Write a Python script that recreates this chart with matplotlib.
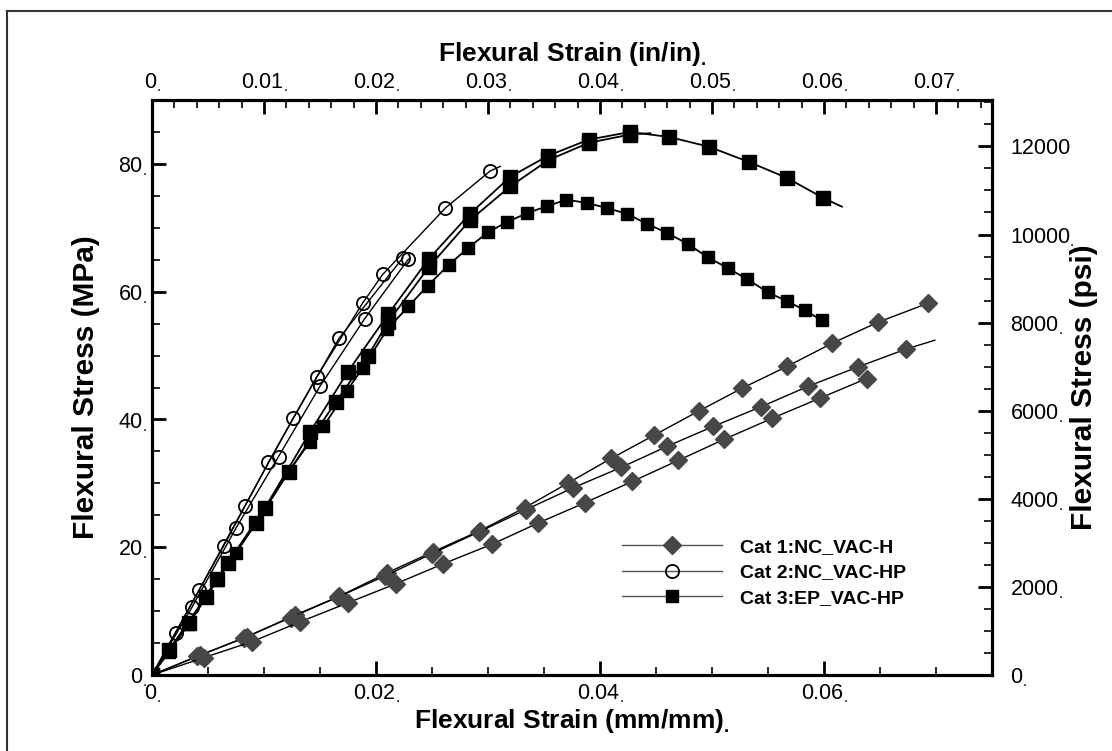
import matplotlib
matplotlib.use("Agg")
import matplotlib.pyplot as plt
from matplotlib.lines import Line2D
from matplotlib.ticker import MultipleLocator, FixedLocator, FixedFormatter

plt.rcParams['font.family'] = ['Liberation Sans', 'DejaVu Sans']
plt.rcParams['mathtext.fontset'] = 'custom'
plt.rcParams['mathtext.rm'] = 'Liberation Sans'
plt.rcParams['mathtext.bf'] = 'Liberation Sans:bold'

# ---------------- data (strain mm/mm, stress MPa) ----------------
cat1_a_x = [0, 0.0043, 0.0085, 0.0128, 0.0167, 0.0210, 0.0251, 0.0293, 0.0333, 0.0371, 0.0410, 0.0448, 0.0488, 0.0527, 0.0567, 0.0607, 0.0648, 0.0693]
cat1_a_y = [0, 3.1, 6.0, 9.4, 12.3, 16.0, 19.3, 22.6, 26.2, 30.0, 33.9, 37.5, 41.3, 44.9, 48.3, 51.9, 55.2, 58.2]
cat1_b_x = [0, 0.0040, 0.0082, 0.0124, 0.0166, 0.0208, 0.0250, 0.0292, 0.0334, 0.0376, 0.0419, 0.0460, 0.0501, 0.0544, 0.0586, 0.0630, 0.0673, 0.0699]
cat1_b_y = [0, 2.9, 5.8, 9.0, 12.2, 15.5, 19.0, 22.4, 25.9, 29.3, 32.5, 35.8, 38.9, 42.0, 45.2, 48.2, 51.0, 52.4]
cat1_c_x = [0, 0.0046, 0.0089, 0.0132, 0.0175, 0.0218, 0.0260, 0.0304, 0.0345, 0.0387, 0.0429, 0.0470, 0.0511, 0.0554, 0.0596, 0.0638]
cat1_c_y = [0, 2.7, 5.2, 8.3, 11.3, 14.3, 17.4, 20.5, 23.8, 27.0, 30.3, 33.6, 36.9, 40.2, 43.3, 46.4]

cat2_a_x = [0, 0.0021, 0.0064, 0.0104, 0.0147, 0.0188, 0.0206, 0.0262, 0.0302, 0.0311]
cat2_a_y = [0, 6.6, 20.2, 33.3, 46.6, 58.2, 62.7, 73.1, 78.9, 79.6]
cat2_b_x = [0, 0.0042, 0.0083, 0.0126, 0.0167, 0.0224]
cat2_b_y = [0, 13.3, 26.5, 40.2, 52.7, 65.3]
cat2_c_x = [0, 0.0036, 0.0075, 0.0113, 0.0150, 0.0190, 0.0229]
cat2_c_y = [0, 10.7, 23.0, 34.2, 45.2, 55.8, 65.1]

cat3_a_x = [0, 0.0015, 0.0048, 0.0068, 0.0101, 0.0141, 0.0175, 0.0211, 0.0247, 0.0284, 0.0320, 0.0354, 0.0390, 0.0427, 0.0462, 0.0497, 0.0533, 0.0567, 0.0599, 0.0616]
cat3_a_y = [0, 3.9, 12.2, 17.6, 26.2, 38.0, 47.5, 56.5, 65.1, 72.2, 78.0, 81.3, 83.8, 85.0, 84.2, 82.7, 80.3, 77.8, 74.7, 73.3]
cat3_b_x = [0, 0.0033, 0.0058, 0.0093, 0.0122, 0.0164, 0.0193, 0.0211, 0.0247, 0.0284, 0.0320, 0.0354, 0.0390, 0.0427, 0.0445]
cat3_b_y = [0, 8.2, 15.1, 23.8, 31.8, 42.7, 50.0, 55.3, 63.8, 71.2, 76.5, 80.6, 83.3, 84.6, 84.8]
cat3_c_x = [0, 0.0015, 0.0033, 0.0058, 0.0075, 0.0093, 0.0122, 0.0141, 0.0153, 0.0174, 0.0188, 0.0210, 0.0229, 0.0246, 0.0265, 0.0282, 0.0300, 0.0317, 0.0335, 0.0353, 0.0370, 0.0388, 0.0406, 0.0424, 0.0442, 0.0460, 0.0479, 0.0496, 0.0514, 0.0531, 0.0550, 0.0567, 0.0583, 0.0598]
cat3_c_y = [0, 3.6, 8.0, 14.8, 19.1, 23.8, 31.8, 36.5, 38.9, 44.5, 48.0, 54.1, 57.7, 60.9, 64.2, 66.8, 69.3, 70.9, 72.3, 73.4, 74.4, 73.9, 73.1, 72.2, 70.6, 69.2, 67.4, 65.4, 63.7, 62.0, 59.9, 58.5, 57.1, 55.5]

legend_labels = ["Cat 1:NC_VAC-H", "Cat 2:NC_VAC-HP", "Cat 3:EP_VAC-HP"]

x_bottom_ticks = [0, 0.02, 0.04, 0.06]
x_bottom_labels = ["0", "0.02", "0.04", "0.06"]
x_top_ticks = [0, 0.01, 0.02, 0.03, 0.04, 0.05, 0.06, 0.07]
x_top_labels = ["0", "0.01", "0.02", "0.03", "0.04", "0.05", "0.06", "0.07"]
y_left_ticks = [0, 20, 40, 60, 80]
y_left_labels = ["0", "20", "40", "60", "80"]
y_right_ticks = [0, 2000, 4000, 6000, 8000, 10000, 12000]
y_right_labels = ["0", "2000", "4000", "6000", "8000", "10000", "12000"]
MPA_TO_PSI = 145.038

# ---------------- figure ----------------
W, H = 1112, 751
fig = plt.figure(figsize=(W / 100, H / 100), dpi=100)
L, R, B, T = 152, 992, 675, 100
ax = fig.add_axes([L / W, (H - B) / H, (R - L) / W, (B - T) / H])

def dot(s):
    return s + r"$_{\mathregular{.}}$"

lw = 1.0
c1 = '#474747'
def m_except(n, first=True, last=True):
    idx = list(range(n))
    if first:
        idx = idx[1:]
    if not last:
        idx = idx[:-1]
    return idx

# Cat 1
for xs, ys, last in [(cat1_a_x, cat1_a_y, True), (cat1_b_x, cat1_b_y, False), (cat1_c_x, cat1_c_y, True)]:
    ax.plot(xs, ys, color='black', lw=lw, marker='D', ms=9, mfc=c1, mec=c1,
            markevery=m_except(len(xs), True, last), zorder=3)
# Cat 2
for xs, ys, last in [(cat2_a_x, cat2_a_y, False), (cat2_b_x, cat2_b_y, True), (cat2_c_x, cat2_c_y, True)]:
    ax.plot(xs, ys, color='black', lw=lw, marker='o', ms=9.5, mfc='none', mec='black', mew=1.3,
            markevery=m_except(len(xs), False, last), zorder=3)
# Cat 3
for xs, ys, last, ms in [(cat3_a_x, cat3_a_y, False, 9.5), (cat3_b_x, cat3_b_y, False, 9.5), (cat3_c_x, cat3_c_y, True, 8.5)]:
    ax.plot(xs, ys, color='black', lw=1.3, marker='s', ms=ms, mfc='black', mec='black',
            markevery=m_except(len(xs), False, last), zorder=3)

ax.set_xlim(0, 0.075)
ax.set_ylim(0, 90)

tick_fs = 15.5
ax.xaxis.set_major_locator(FixedLocator(x_bottom_ticks))
ax.xaxis.set_major_formatter(FixedFormatter([dot(s) for s in x_bottom_labels]))
ax.xaxis.set_minor_locator(MultipleLocator(0.005))
ax.yaxis.set_major_locator(FixedLocator(y_left_ticks))
ax.yaxis.set_major_formatter(FixedFormatter([dot(s) for s in y_left_labels]))
ax.yaxis.set_minor_locator(MultipleLocator(5))
ax.tick_params(which='major', direction='in', length=10, width=2.0, labelsize=tick_fs)
ax.tick_params(which='minor', direction='in', length=6, width=1.2)
ax.tick_params(axis='x', which='major', pad=5)
ax.tick_params(axis='y', which='major', pad=4)

axt = ax.twiny()
axt.set_xlim(0, 0.075)
axt.xaxis.set_major_locator(FixedLocator(x_top_ticks))
axt.xaxis.set_major_formatter(FixedFormatter([dot(s) for s in x_top_labels]))
axt.xaxis.set_minor_locator(MultipleLocator(0.002))
axt.tick_params(which='major', direction='in', length=10, width=2.0, labelsize=tick_fs, pad=4)
axt.tick_params(which='minor', direction='in', length=6, width=1.2)

axr = ax.twinx()
axr.set_ylim(0, 90 * MPA_TO_PSI)
axr.yaxis.set_major_locator(FixedLocator(y_right_ticks))
rl = [dot(s) for s in y_right_labels]
rl[-1] = y_right_labels[-1]
axr.yaxis.set_major_formatter(FixedFormatter(rl))
axr.yaxis.set_minor_locator(MultipleLocator(500))
axr.tick_params(which='major', direction='in', length=10, width=2.0, labelsize=tick_fs, pad=13)
axr.tick_params(which='minor', direction='in', length=6, width=1.2)

for a in (ax, axt, axr):
    for s in a.spines.values():
        s.set_linewidth(2.2)

hlab_fs = 19
vlab_fs = 21.5
ax.set_xlabel("Flexural Strain (mm/mm)" + r"$_{\mathregular{.}}$", fontsize=hlab_fs, fontweight='bold')
ax.xaxis.set_label_coords(0.5, -0.056)
axt.set_xlabel("Flexural Strain (in/in)" + r"$_{\mathregular{.}}$", fontsize=hlab_fs, fontweight='bold')
axt.xaxis.set_label_coords(0.5, 1.068)
ax.set_ylabel("Flexural Stress (MPa)", fontsize=vlab_fs, fontweight='bold')
ax.yaxis.set_label_coords(-0.062, 0.5)
axr.set_ylabel("Flexural Stress (psi)", fontsize=vlab_fs, fontweight='bold', rotation=90)
axr.yaxis.set_label_coords(1.093, 0.5)

# legend
lc = '#555555'
handles = [
    Line2D([], [], color=lc, lw=1.0, marker='D', ms=9, mfc=c1, mec=c1),
    Line2D([], [], color=lc, lw=1.0, marker='o', ms=9.5, mfc='none', mec='black', mew=1.3),
    Line2D([], [], color=lc, lw=1.0, marker='s', ms=8.5, mfc='black', mec='black'),
]
leg_fs = 14
fpx = leg_fs * 100 / 72
fig.legend(handles, legend_labels, loc='upper left',
           bbox_to_anchor=(622 / W, (H - 538) / H), frameon=False,
           prop={'weight': 'bold', 'size': leg_fs}, handlelength=100 / fpx,
           handletextpad=18 / fpx, labelspacing=0.42, borderpad=0, borderaxespad=0,
           numpoints=1)

# outer frame (top and left only visible)
fig.add_artist(Line2D([7 / W, 1.0], [(H - 11) / H, (H - 11) / H], color='#333333', lw=1.5,
                      transform=fig.transFigure))
fig.add_artist(Line2D([7 / W, 7 / W], [0, (H - 11) / H], color='#333333', lw=1.5,
                      transform=fig.transFigure))

fig.savefig("out.png", dpi=100)
